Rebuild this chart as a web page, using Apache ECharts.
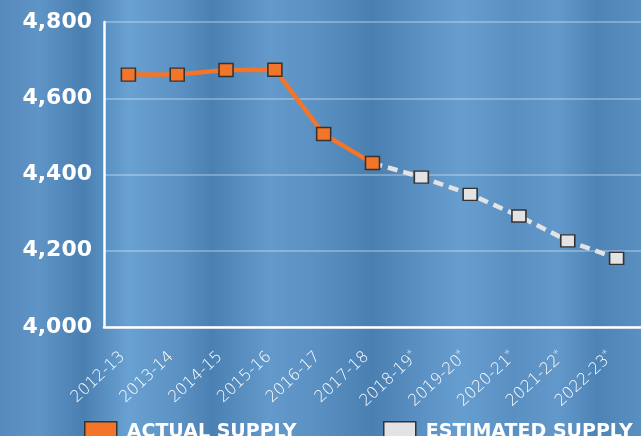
<!DOCTYPE html>
<html>
<head>
<meta charset="utf-8">
<script src="https://cdn.jsdelivr.net/npm/echarts@6/dist/echarts.min.js"></script>
<style>
html,body{margin:0;padding:0;overflow:hidden;}
#c{width:641px;height:436px;}
</style>
</head>
<body>
<div id="c"></div>
<script>
const categories = ['2012-13','2013-14','2014-15','2015-16','2016-17','2017-18','2018-19*','2019-20*','2020-21*','2021-22*','2022-23*'];
const actualSupply = [4662, 4662, 4674, 4675, 4506, 4430, null, null, null, null, null];
const estimatedSupply = [null, null, null, null, null, 4430, 4393, 4348, 4291, 4226, 4180];
const yTicks = [4000, 4200, 4400, 4600, 4800];

const chart = echarts.init(document.getElementById('c'), null, {renderer: 'canvas'});

const bg = new echarts.graphic.LinearGradient(0, 0, 1, 0, [
  {offset: 0.00, color: '#5789bd'},
  {offset: 0.06, color: '#5e94c6'},
  {offset: 0.13, color: '#4a7fb2'},
  {offset: 0.20, color: '#69a1d2'},
  {offset: 0.28, color: '#5b91c3'},
  {offset: 0.33, color: '#4b80b3'},
  {offset: 0.42, color: '#6399cb'},
  {offset: 0.50, color: '#5a8fc1'},
  {offset: 0.58, color: '#4a7fb2'},
  {offset: 0.66, color: '#5c91c3'},
  {offset: 0.72, color: '#679ed0'},
  {offset: 0.80, color: '#5a8fc1'},
  {offset: 0.87, color: '#6399ca'},
  {offset: 0.93, color: '#4e83b6'},
  {offset: 1.00, color: '#5a8fc1'}
]);

const estData = estimatedSupply.map((v, i) => (i === 5 ? {value: v, symbol: 'none'} : v));

const legendText = {color: '#fff', fontSize: 19, fontWeight: 'bold', fontFamily: 'DejaVu Sans', padding: [0, 0, 0, 5]};

chart.setOption({
  animation: false,
  backgroundColor: bg,
  grid: {left: 104, top: 22, width: 540, bottom: 109, containLabel: false},
  legend: [
    {
      data: [{name: 'ACTUAL SUPPLY', icon: 'rect', itemStyle: {color: '#f37529', borderColor: '#333', borderWidth: 1.5}}],
      left: 84, top: 421, padding: 0, itemWidth: 32, itemHeight: 20, itemGap: 10,
      textStyle: legendText
    },
    {
      data: [{name: 'ESTIMATED SUPPLY', icon: 'rect', itemStyle: {color: '#e3e3e5', borderColor: '#333', borderWidth: 1.5}}],
      left: 383, top: 421, padding: 0, itemWidth: 32, itemHeight: 20, itemGap: 10,
      textStyle: legendText
    }
  ],
  xAxis: {
    type: 'category',
    data: categories,
    boundaryGap: true,
    axisLine: {show: true, lineStyle: {color: '#fff', width: 2.5}},
    axisTick: {show: false},
    splitLine: {show: false},
    axisLabel: {
      interval: 0,
      rotate: 43,
      margin: 22,
      padding: [0, 8, 0, 0],
      color: '#fff',
      fontSize: 16,
      fontFamily: 'DejaVu Sans',
      fontWeight: 200,
      formatter: function (v) {
        if (v.endsWith('*')) return '{a|' + v.slice(0, -1) + '}{s|*}';
        return '{a|' + v + '}';
      },
      rich: {
        a: {color: '#fff', fontSize: 16, fontFamily: 'DejaVu Sans', fontWeight: 200},
        s: {color: '#fff', fontSize: 11, fontFamily: 'DejaVu Sans', fontWeight: 200, verticalAlign: 'top', padding: [0, 0, 7, 0]}
      }
    }
  },
  yAxis: {
    type: 'value',
    min: yTicks[0],
    max: yTicks[yTicks.length - 1],
    interval: 200,
    axisLine: {show: true, lineStyle: {color: '#fff', width: 2.5}},
    axisTick: {show: false},
    splitLine: {show: true, lineStyle: {color: 'rgba(255,255,255,0.28)', width: 2}},
    axisLabel: {
      color: '#fff', fontSize: 22, fontWeight: 'bold', fontFamily: 'DejaVu Sans', margin: 12,
      formatter: v => v.toLocaleString('en-US')
    }
  },
  series: [
    {
      name: 'ESTIMATED SUPPLY',
      type: 'line',
      data: estData,
      z: 2,
      symbol: 'rect',
      symbolSize: [14, 12],
      lineStyle: {color: '#e3e3e5', width: 4.5, type: [10, 6]},
      itemStyle: {color: '#e3e3e5', borderColor: '#333', borderWidth: 1.5}
    },
    {
      name: 'ACTUAL SUPPLY',
      type: 'line',
      data: actualSupply,
      z: 3,
      symbol: 'rect',
      symbolSize: [14, 13],
      lineStyle: {color: '#f37529', width: 4.5},
      itemStyle: {color: '#f37529', borderColor: '#333', borderWidth: 1.5}
    }
  ]
});
</script>
</body>
</html>
